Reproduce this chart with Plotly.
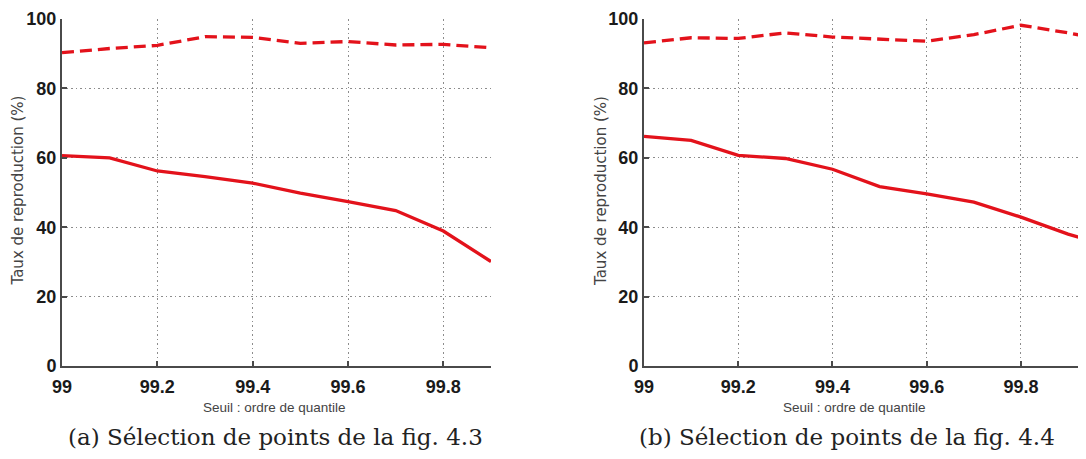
import plotly.graph_objects as go

# Data
x_left = [99.0, 99.1, 99.2, 99.3, 99.4, 99.5, 99.6, 99.7, 99.8, 99.9]
solid_left = [60.6, 60.0, 56.2, 54.6, 52.7, 49.8, 47.4, 44.8, 38.9, 30.1]
dashed_left = [90.3, 91.5, 92.4, 94.9, 94.7, 93.0, 93.5, 92.5, 92.7, 91.7]

x_right = [99.0, 99.1, 99.2, 99.3, 99.4, 99.5, 99.6, 99.7, 99.8, 99.9, 100.0]
solid_right = [66.2, 65.0, 60.7, 59.8, 56.7, 51.7, 49.6, 47.2, 42.9, 38.0, 34.0]
dashed_right = [93.1, 94.6, 94.4, 96.0, 94.8, 94.3, 93.6, 95.5, 98.2, 96.0, 93.5]

x_ticks = [99, 99.2, 99.4, 99.6, 99.8]
x_ticklabels = ["99", "99.2", "99.4", "99.6", "99.8"]
y_ticks = [0, 20, 40, 60, 80, 100]

x_title = "Seuil : ordre de quantile"
y_title = "Taux de reproduction (%)"
captions = ["(a) Sélection de points de la fig. 4.3", "(b) Sélection de points de la fig. 4.4"]

RED = "#e3121b"
# page has an 8px body margin; figure sized to fit the 1086x459 window
W, H = 1078, 451
MT, MB = 11, 93
PH = H - MT - MB  # plot height in px

fig = go.Figure()

def add_pair(x, solid, dashed, xa, ya):
    fig.add_trace(go.Scatter(x=x, y=dashed, mode="lines", xaxis=xa, yaxis=ya,
                             line=dict(color=RED, width=3.3, dash="12px,6px"),
                             showlegend=False))
    fig.add_trace(go.Scatter(x=x, y=solid, mode="lines", xaxis=xa, yaxis=ya,
                             line=dict(color=RED, width=3.3),
                             showlegend=False))

add_pair(x_left, solid_left, dashed_left, "x", "y")
add_pair(x_right, solid_right, dashed_right, "x2", "y2")

tickfont = dict(family="Liberation Sans, Arial, sans-serif", size=18, color="#1a1a1a", weight="bold")

GRID = "#8c8c8c"

def xaxis(domain, rng, anchor):
    return dict(domain=domain, range=rng, anchor=anchor,
                tickvals=x_ticks, ticktext=x_ticklabels,
                showgrid=True, gridcolor=GRID, griddash="1.5px,3px", gridwidth=1,
                showline=True, linecolor="#4a4a4a", linewidth=2,
                ticks="inside", ticklen=5, tickcolor="#4a4a4a", tickwidth=1.5,
                tickfont=tickfont, ticklabelstandoff=3, ticklabeloverflow="allow",
                zeroline=False, automargin=False)

def yaxis(rng, anchor):
    return dict(domain=[0, 1], range=rng, anchor=anchor,
                tickvals=y_ticks,
                showgrid=True, gridcolor=GRID, griddash="1.5px,3px", gridwidth=1,
                showline=True, linecolor="#4a4a4a", linewidth=2,
                ticks="inside", ticklen=5, tickcolor="#4a4a4a", tickwidth=1.5,
                tickfont=tickfont, ticklabeloverflow="allow",
                zeroline=False, automargin=False)

fig.update_layout(
    width=W, height=H,
    margin=dict(l=0, r=0, t=MT, b=MB),
    paper_bgcolor="white", plot_bgcolor="white",
    xaxis=xaxis([54 / W, 483 / W], [99, 99.9], "y"),
    yaxis=yaxis([0, 100], "x"),
    xaxis2=xaxis([636 / W, 1.0], [99, 99.938], "y2"),
    yaxis2=yaxis([0, 100], "x2"),
)

def py(px):
    # convert figure pixel y (from top) to paper coords
    return (H - MB - px) / PH

xtfont = dict(family="Liberation Sans, sans-serif", size=13.5, color="#444")
ytfont = dict(family="DejaVu Sans, sans-serif", size=15, color="#444")

for cx in [266, 846]:
    fig.add_annotation(text=x_title, xref="paper", yref="paper", x=cx / W, y=py(399),
                       xanchor="center", yanchor="middle", showarrow=False, font=xtfont)
for cx in [9.5, 593]:
    fig.add_annotation(text=y_title, xref="paper", yref="paper", x=cx / W, y=py(183),
                       xanchor="center", yanchor="middle", showarrow=False, font=ytfont,
                       textangle=-90)

capfont = dict(family="DejaVu Serif, Liberation Serif, serif", size=23, color="#222")
for cx, text in zip([267, 838.5], captions):
    fig.add_annotation(text=text, xref="paper", yref="paper", x=cx / W, y=py(429),
                       xanchor="center", yanchor="middle", showarrow=False, font=capfont)

fig.write_html("out.html")
